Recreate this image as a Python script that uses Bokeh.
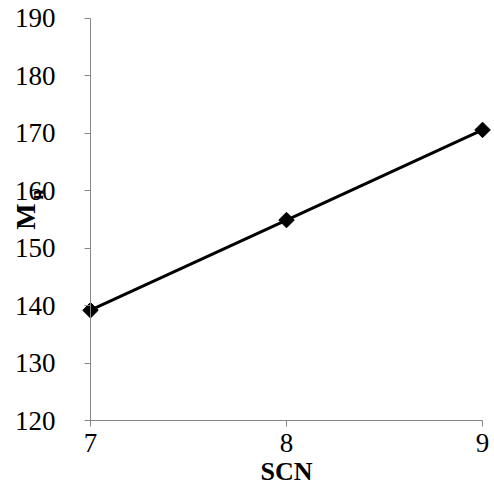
import math
from bokeh.plotting import figure
from bokeh.models import Range1d, FixedTicker
from bokeh.core.properties import value
from bokeh.embed import file_html
from bokeh.resources import INLINE

# Data: single carbon number vs molecular weight
scn = [7, 8, 9]
mn = [139.2, 154.9, 170.6]
x_ticks = [7, 8, 9]
y_ticks = [120, 130, 140, 150, 160, 170, 180, 190]

FONT = "Liberation Serif"
AXIS_COLOR = "#868686"

# The frame covers the whole canvas; both axes are pinned at the data origin
# (x=7, y=120) so their labels and the titles are drawn without clipping.
p = figure(width=494, height=491, output_backend="svg", toolbar_location=None,
           x_range=Range1d(6.541, 9.061),
           y_range=Range1d(107.637, 193.134),
           min_border_left=0, min_border_right=0, min_border_top=0,
           min_border_bottom=0)
p.outline_line_color = None
p.grid.grid_line_color = None
p.background_fill_color = "white"
p.border_fill_color = "white"

for ax in (p.xaxis[0], p.yaxis[0]):
    ax.axis_line_color = AXIS_COLOR
    ax.major_tick_line_color = AXIS_COLOR
    ax.minor_tick_line_color = None
    ax.major_tick_in = 0
    ax.major_tick_out = 6
    ax.major_label_text_font = FONT
    ax.major_label_text_font_size = "27px"
    ax.major_label_text_color = "black"

p.xaxis.ticker = FixedTicker(ticks=x_ticks)
p.yaxis.ticker = FixedTicker(ticks=y_ticks)
p.xaxis.bounds = (x_ticks[0], x_ticks[-1])
p.yaxis.bounds = (y_ticks[0], y_ticks[-1])
p.xaxis.fixed_location = y_ticks[0]
p.yaxis.fixed_location = x_ticks[0]
p.xaxis.major_label_standoff = 7
p.yaxis.major_label_standoff = 29

p.line(scn, mn, line_color="black", line_width=3)
p.scatter(scn, mn, marker="square", angle=math.pi / 4, size=11,
          fill_color="black", line_color="black")

# X axis title
p.text(x=[8], y=[111.1], text=["SCN"], text_font=value(FONT),
       text_font_style="bold", text_font_size="26px", text_align="center",
       text_baseline="middle", text_color="black")

# Y axis title: bold M with subscript n, rotated to read upwards
p.text(x=[6.666], y=[155.5], text=["M"], angle=math.pi / 2,
       text_font=value(FONT), text_font_style="bold", text_font_size="28px",
       text_align="center", text_baseline="middle", text_color="black")
p.text(x=[6.725], y=[159.3], text=["n"], angle=math.pi / 2,
       text_font=value(FONT), text_font_style="bold", text_font_size="18px",
       text_align="center", text_baseline="middle", text_color="black")

open("out.html", "w").write(file_html(p, INLINE))
